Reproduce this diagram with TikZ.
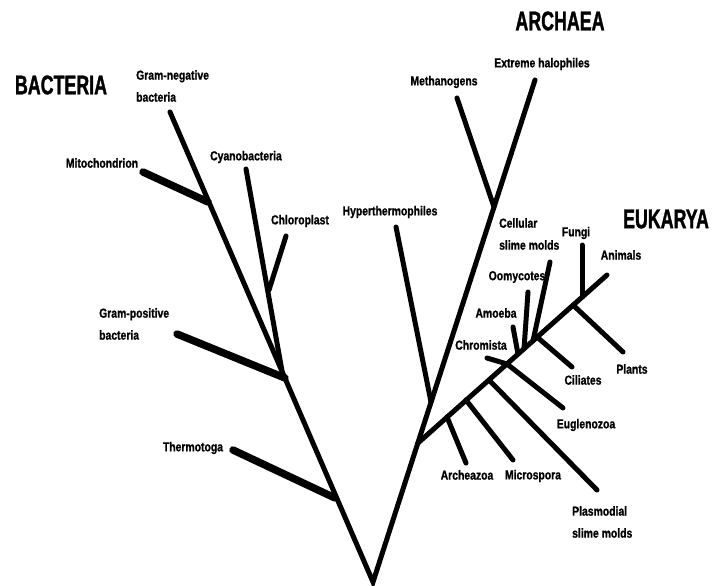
\documentclass[tikz,border=0pt]{standalone}
\usepackage{fontspec}
\setmainfont{Liberation Sans}
\newfontfamily\narrowfont{Liberation Sans}[FakeStretch=0.8, FakeBold=1]
\newfontfamily\domainfont{Liberation Sans}[FakeStretch=0.66, FakeBold=1.2]
\usetikzlibrary{positioning}

\tikzset{
	branch/.style={line width=5bp, line cap=round},
	thickbranch/.style={line width=7.5bp, line cap=round},
	taxon/.style={font=\narrowfont\bfseries\fontsize{13bp}{22bp}\selectfont, inner sep=0pt, align=left},
	domaintitle/.style={font=\domainfont\bfseries\fontsize{27bp}{27bp}\selectfont, inner sep=0pt}
}

\begin{document}
\begin{tikzpicture}[x=1bp, y=-1bp]
		\useasboundingbox (0,0) rectangle (712,586);

		% bacteria side
		\coordinate (root) at (373,582);
		\coordinate (gramneg) at (170,112);
		\coordinate (jmito) at (208,202);
		\coordinate (mito) at (143,172);
		\coordinate (jcyano) at (282,371);
		\coordinate (cyano) at (246,169);
		\coordinate (jchloro) at (269,290);
		\coordinate (chloro) at (286,236);
		\coordinate (jgrampos) at (285,378);
		\coordinate (grampos) at (177,334);
		\coordinate (jthermo) at (335,498);
		\coordinate (thermo) at (233,450);

		% archaea side
		\coordinate (halo) at (535,80);
		\coordinate (jmeth) at (494,207);
		\coordinate (meth) at (457,98);
		\coordinate (jhyper) at (431,402);
		\coordinate (hyper) at (396,227);

		% eukarya
		\coordinate (jeuk) at (418,443);
		\coordinate (animals) at (607,275);
		\coordinate (jarchz) at (447,417);
		\coordinate (archz) at (466,463);
		\coordinate (jmicro) at (466,400);
		\coordinate (micro) at (513,460);
		\coordinate (jplasmo) at (489,380);
		\coordinate (plasmo) at (597,490);
		\coordinate (jeugl) at (507,364);
		\coordinate (eugl) at (563,408);
		\coordinate (chrom) at (487,358);
		\coordinate (jamoeba) at (518,354);
		\coordinate (amoeba) at (513,327);
		\coordinate (joomy) at (524,349);
		\coordinate (oomy) at (528,292);
		\coordinate (jslime) at (533,341);
		\coordinate (slime) at (550,262);
		\coordinate (jcil) at (537,337);
		\coordinate (cil) at (572,367);
		\coordinate (jplants) at (573,305);
		\coordinate (plants) at (623,352);
		\coordinate (jfungi) at (582,297);
		\coordinate (fungi) at (582,245);

		\draw[branch] (gramneg) -- (root) -- (halo);
		\draw[thickbranch] (jmito) -- (mito);
		\draw[branch] (jcyano) -- (cyano);
		\draw[branch] (jchloro) -- (chloro);
		\draw[thickbranch] (jgrampos) -- (grampos);
		\draw[thickbranch] (jthermo) -- (thermo);
		\draw[branch] (jmeth) -- (meth);
		\draw[branch] (jhyper) -- (hyper);
		\draw[branch] (jeuk) -- (animals);
		\draw[branch] (jarchz) -- (archz);
		\draw[branch] (jmicro) -- (micro);
		\draw[branch] (jplasmo) -- (plasmo);
		\draw[branch] (chrom) -- (jeugl) -- (eugl);
		\draw[branch] (jamoeba) -- (amoeba);
		\draw[branch] (joomy) -- (oomy);
		\draw[branch] (jslime) -- (slime);
		\draw[branch] (jcil) -- (cil);
		\draw[branch] (jplants) -- (plants);
		\draw[branch] (jfungi) -- (fungi);

		\node[domaintitle] (bacteria) at (61,85) {BACTERIA};
		\node[domaintitle] (archaea) at (560,21) {ARCHAEA};
		\node[domaintitle] (eukarya) at (666,219) {EUKARYA};

		\node[taxon, anchor=west] (lgramneg) at (136,86) {Gram-negative\\bacteria};
		\node[taxon] (lmito) at (102,163) {Mitochondrion};
		\node[taxon] (lcyano) at (246,157) {Cyanobacteria};
		\node[taxon] (lchloro) at (300,221) {Chloroplast};
		\node[taxon, anchor=west] (lgrampos) at (99,324) {Gram-positive\\bacteria};
		\node[taxon] (lthermo) at (193,448) {Thermotoga};
		\node[taxon] (lhyper) at (390,212) {Hyperthermophiles};
		\node[taxon] (lmeth) at (444,82) {Methanogens};
		\node[taxon] (lhalo) at (542,64) {Extreme halophiles};
		\node[taxon, anchor=west] (lslime) at (499,234) {Cellular\\slime molds};
		\node[taxon] (lfungi) at (576,233) {Fungi};
		\node[taxon] (lanimals) at (621,255) {Animals};
		\node[taxon] (loomy) at (517,277) {Oomycotes};
		\node[taxon] (lamoeba) at (496,313) {Amoeba};
		\node[taxon] (lchrom) at (481,345) {Chromista};
		\node[taxon] (lcil) at (583,380) {Ciliates};
		\node[taxon] (lplants) at (632,369) {Plants};
		\node[taxon] (leugl) at (586,425) {Euglenozoa};
		\node[taxon] (larchz) at (467,475) {Archeazoa};
		\node[taxon] (lmicro) at (533,476) {Microspora};
		\node[taxon, anchor=west] (lplasmo) at (572,522) {Plasmodial\\slime molds};
	\end{tikzpicture}
\end{document}
